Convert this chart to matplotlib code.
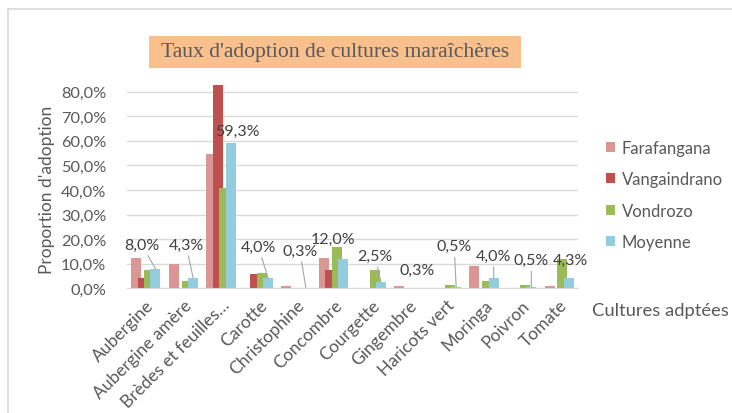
import matplotlib.pyplot as plt
import numpy as np
from matplotlib.lines import Line2D
from matplotlib.patches import Rectangle
from matplotlib.ticker import FuncFormatter

cultures = ["Aubergine", "Aubergine amère", "Brèdes et feuilles…", "Carotte",
            "Christophine", "Concombre", "Courgette", "Gingembre",
            "Haricots vert", "Moringa", "Poivron", "Tomate"]
farafangana = [12.2, 9.8, 54.5, 0.0, 0.9, 12.2, 0.0, 0.8, 0.0, 9.0, 0.0, 0.8]
vangaindrano = [4.3, 0.0, 82.7, 5.8, 0.0, 7.3, 0.0, 0.0, 0.0, 0.0, 0.0, 0.0]
vondrozo = [7.3, 3.1, 41.0, 6.1, 0.0, 16.7, 7.5, 0.0, 1.4, 3.0, 1.4, 12.0]
moyenne = [8.0, 4.3, 59.3, 4.0, 0.3, 12.0, 2.5, 0.3, 0.5, 4.0, 0.5, 4.3]

series = [("Farafangana", farafangana, "#DA9694"),
          ("Vangaindrano", vangaindrano, "#C0504D"),
          ("Vondrozo", vondrozo, "#9BBB59"),
          ("Moyenne", moyenne, "#93CDDD")]

# label offsets (pixels) from top of the Moyenne bar, and whether Excel drew a leader line
label_offsets = [(-14, 24), (-7, 33), (7, 12), (-10, 32), (-6, 37), (-10, 20),
                 (-6, 26), (-1, 18), (-2, 41), (0, 23), (0, 27), (2, 18)]
leader = [True, True, False, True, True, False, True, False, True, True, True, False]

plt.rcParams['font.family'] = ['Lato', 'DejaVu Sans']
W, H = 732, 414
fig = plt.figure(figsize=(W / 100, H / 100), dpi=100)

# chart frame (only top and left edges visible in the crop)
fig.add_artist(Line2D([8 / W, 1], [1 - 10 / H, 1 - 10 / H], color="#D9D9D9", lw=1.2))
fig.add_artist(Line2D([8 / W, 8 / W], [0, 1 - 10 / H], color="#D9D9D9", lw=1.2))

ax = fig.add_axes([127 / W, 1 - 289.3 / H, (578 - 127) / W, 85 * 2.4575 / H])

x = np.arange(len(cultures))
step, width = 0.172, 0.266
for k, (name, vals, col) in enumerate(series):
    ax.bar(x + (k - 1.5) * step, vals, width, color=col, label=name, zorder=2)

ax.set_xlim(-0.5, len(cultures) - 0.5)
ax.set_ylim(0, 85)
ax.set_yticks(np.arange(0, 81, 10))
ax.yaxis.set_major_formatter(FuncFormatter(lambda v, p: f"{v:.1f}%".replace('.', ',')))
ax.grid(axis='y', color="#D9D9D9", lw=1, zorder=0)
for s in ['top', 'right', 'left']:
    ax.spines[s].set_visible(False)
ax.spines['bottom'].set_color("#D9D9D9")
ax.tick_params(axis='y', length=0, pad=15, labelsize=11.8, labelcolor="#595959")
ax.tick_params(axis='x', length=0, pad=6, labelsize=12.5, labelcolor="#595959")
ax.set_xticks(x)
ax.set_xticklabels(cultures, rotation=45, ha='right', va='top', rotation_mode='anchor')

# data labels for Moyenne
for i, v in enumerate(moyenne):
    txt = f"{v:.1f}%".replace('.', ',')
    arrow = dict(arrowstyle='-', color="#A6A6A6", lw=0.8, shrinkA=1, shrinkB=0) if leader[i] else None
    ax.annotate(txt, xy=(x[i] + 1.5 * step, v), xytext=label_offsets[i], textcoords='offset pixels',
                ha='center', va='center', fontsize=11.5, color="#404040", arrowprops=arrow, zorder=3)

fig.text(47 / W, 1 - 190 / H, "Proportion d'adoption", rotation=90, ha='center', va='center',
         fontsize=12.5, color="#595959")
fig.text(592 / W, 1 - 311 / H, "Cultures adptées", ha='left', va='center', fontsize=13.2, color="#595959")

# title box
fig.add_artist(Rectangle((149 / W, 1 - 68.7 / H), (521 - 149) / W, 31.4 / H,
                         facecolor="#F9C08E", edgecolor='none', transform=fig.transFigure))
fig.text(335 / W, 1 - 53 / H, "Taux d'adoption de cultures maraîchères", ha='center', va='center',
         fontsize=15.6, color="#595959", family='Liberation Serif')

ax.legend(loc='upper left', bbox_to_anchor=(606 / W, 1 - 141 / H), bbox_transform=fig.transFigure,
          frameon=False, fontsize=12, labelcolor="#595959", handlelength=0.55, handleheight=0.55,
          handletextpad=0.4, labelspacing=0.92, borderpad=0, borderaxespad=0)

fig.savefig("out.png", dpi=100, facecolor='white')
